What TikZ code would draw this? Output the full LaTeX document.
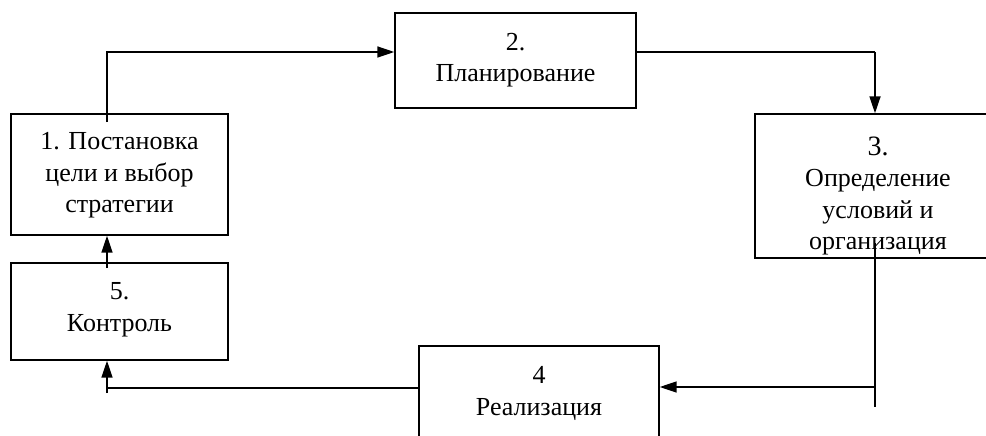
\documentclass[tikz,border=0pt]{standalone}
\usepackage{fontspec}
\setmainfont{Liberation Serif}
\usetikzlibrary{arrows.meta}
\tikzset{
  stagebox/.style={draw, line width=1.4pt, rectangle, inner sep=0pt},
  stagetext/.style={align=center, font=\fontsize{26}{31.5}\selectfont, inner sep=0pt},
  flow/.style={line width=1.7pt, -{Triangle[length=17pt,width=11pt]}},
  plainline/.style={line width=1.4pt},
}
\begin{document}
\begin{tikzpicture}[x=1pt,y=-1pt]
  \useasboundingbox (0,0) rectangle (986,436);
  \clip (0,0) rectangle (986,436);
  \fill[white] (0,0) rectangle (986,436);

  % stage boxes
  \node[stagebox, minimum width=217pt, minimum height=121pt] (b1) at (119.5,174.5) {};
  \node[stagebox, minimum width=241pt, minimum height=95pt]  (b2) at (515.5,60.5) {};
  \node[stagebox, minimum width=246pt, minimum height=144pt] (b3) at (878,186) {};
  \node[stagebox, minimum width=240pt, minimum height=95pt]  (b4) at (539,393.5) {};
  \node[stagebox, minimum width=217pt, minimum height=97pt]  (b5) at (119.5,311.5) {};

  % stage captions
  \node[stagetext] (t1) at (119.5,175.5) {1. Постановка\\цели и выбор\\стратегии};
  \node[stagetext] (t2) at (515.5,60) {2.\\Планирование};
  \node[stagetext] (t3) at (878,196) {\fontsize{28}{31.5}\selectfont 3.\\Определение\\условий и\\организация};
  \node[stagetext] (t4) at (539,393.5) {4\\Реализация};
  \node[stagetext] (t5) at (119.5,310) {5.\\Контроль};

  % branch points and free ends
  \coordinate (s1) at (107,122);
  \coordinate (k2) at (875,52);
  \coordinate (s3) at (875,243);
  \coordinate (e3) at (875,407);
  \coordinate (j3) at (875,387);
  \coordinate (j5) at (107,388);
  \coordinate (s5) at (107,393);
  \coordinate (s6) at (107,268);

  % 1 -> 2
  \draw[flow] (s1) |- ([yshift=8.5pt]b2.west);
  % 2 -> 3
  \draw[plainline] ([yshift=8.5pt]b2.east) -- (k2);
  \draw[flow] (k2) -- (k2 |- b3.north);
  % 3 -> 4
  \draw[plainline] (s3) -- (e3);
  \draw[flow] (j3) -- (j3 -| b4.east);
  % 4 -> 5
  \draw[plainline] (j5 -| b4.west) -- (j5);
  \draw[flow] (s5) -- (s5 |- b5.south);
  % 5 -> 1
  \draw[flow] (s6) -- (s6 |- b1.south);
\end{tikzpicture}
\end{document}
